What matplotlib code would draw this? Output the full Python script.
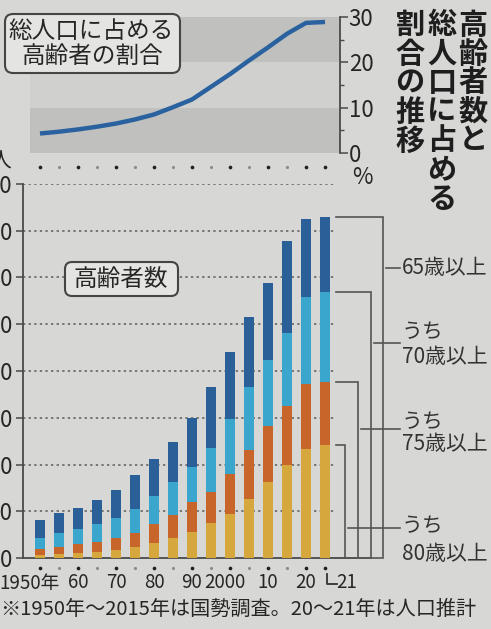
import matplotlib
matplotlib.use('Agg')
import matplotlib.pyplot as plt
from matplotlib.patches import FancyBboxPatch

plt.rcParams['font.family'] = ['Noto Sans CJK JP', 'DejaVu Sans']

# ---------------- data ----------------
years = ['1950', '1955', '1960', '1965', '1970', '1975', '1980', '1985',
         '1990', '1995', '2000', '2005', '2010', '2015', '2020', '2021']
# 万人
pop65 = [411, 482, 535, 615, 730, 887, 1062, 1245, 1495, 1828, 2204, 2578, 2945, 3390, 3625, 3645]
pop70 = [214, 268, 310, 364, 428, 524, 663, 813, 974, 1177, 1487, 1830, 2119, 2408, 2793, 2846]
pop75 = [96, 118, 150, 171, 214, 268, 364, 460, 599, 706, 899, 1156, 1412, 1626, 1862, 1883]
pop80 = [30, 43, 53, 64, 86, 118, 160, 214, 278, 375, 471, 631, 813, 995, 1166, 1209]
# % of total population
share = [4.3, 4.7, 5.2, 5.8, 6.5, 7.4, 8.5, 10.1, 11.8, 14.6, 17.4, 20.4, 23.3, 26.3, 28.7, 28.9]

xlabels = ['1950年', '', '60', '', '70', '', '80', '', '90', '', '2000', '', '10', '', '20', '21']
yticks_b = list(range(0, 4001, 500))
yticks_t = [0, 10, 20, 30]

# ---------------- style ----------------
W, H = 491, 629
BG = '#d7d7d5'
C_DARK = '#2b5f97'
C_LIGHT = '#3aa5cd'
C_ORANGE = '#c7652b'
C_YELLOW = '#d6a73c'
C_LINE = '#2a62a0'
C_TXT = '#262626'
C_AX = '#4a4a4a'

X0, P = 40, 19.0


def px(x):
    return (x - X0) / P


fig = plt.figure(figsize=(W / 100, H / 100), dpi=100, facecolor=BG)

# ---------------- bottom panel ----------------
axb = fig.add_axes([23 / W, 1 - 558 / H, (335 - 23) / W, (558 - 184) / H])
axb.set_facecolor('none')
axb.set_xlim(px(23), px(335))
axb.set_ylim(0, 4000)


def by(y):
    return (558 - y) * 4000 / 374.0


xs = list(range(len(years)))
bw = 0.57
seg_yellow = pop80
seg_orange = [a - b for a, b in zip(pop75, pop80)]
seg_light = [a - b for a, b in zip(pop70, pop75)]
seg_dark = [a - b for a, b in zip(pop65, pop70)]
axb.bar(xs, seg_yellow, width=bw, color=C_YELLOW, zorder=3)
axb.bar(xs, seg_orange, width=bw, bottom=pop80, color=C_ORANGE, zorder=3)
axb.bar(xs, seg_light, width=bw, bottom=pop75, color=C_LIGHT, zorder=3)
axb.bar(xs, seg_dark, width=bw, bottom=pop70, color=C_DARK, zorder=3)

for v in yticks_b[1:]:
    axb.axhline(v, color='#6e6e6e', lw=1.3, ls=(0, (1.3, 1.8)), zorder=1)

for s in ['top', 'right']:
    axb.spines[s].set_visible(False)
for s in ['left', 'bottom']:
    axb.spines[s].set_color(C_AX)
    axb.spines[s].set_linewidth(1.3)
axb.set_yticks(yticks_b)
axb.set_yticklabels([str(v) for v in yticks_b])
axb.tick_params(axis='y', direction='out', length=5, width=1.1, color=C_AX,
                pad=2.6, labelsize=16, labelcolor=C_TXT)
axb.set_xticks([])

# x tick dots
big = [i for i, y in enumerate(years) if int(y) % 10 == 0 or y == '2021']
small = [i for i in xs if i not in big]
axb.scatter(big, [by(568)] * len(big), s=7, color='#202020', clip_on=False, zorder=4, lw=0)
axb.scatter(small, [by(568)] * len(small), s=5, color='#8a8a8a', clip_on=False, zorder=4, lw=0)

# brackets (right) from 2021 values
last = len(years) - 1
br_vals = [pop65[last], pop70[last], pop75[last], pop80[last]]
br_x = [383, 371, 358, 345]
for v, bx in zip(br_vals, br_x):
    axb.plot([px(336), px(bx), px(bx), px(336)], [v, v, 0, 0], color='#555555',
             lw=1.2, clip_on=False, zorder=4, solid_joinstyle='miter')

# ---------------- top panel ----------------
axt = fig.add_axes([23 / W, 1 - 153 / H, (340 - 23) / W, (153 - 17) / H])
axt.set_facecolor('none')
axt.set_xlim(px(23), px(340))
axt.set_ylim(0, 30)


def ty(y):
    return (153 - y) * 30 / 136.0


band_x0 = (30 - 23) / (340 - 23)
axt.axhspan(0, 10, xmin=band_x0, color='#c0c0be', lw=0, zorder=0)
axt.axhspan(10, 20, xmin=band_x0, color='#d0d0ce', lw=0, zorder=0)
axt.axhspan(20, 30, xmin=band_x0, color='#c0c0be', lw=0, zorder=0)
axt.plot(xs, share, color=C_LINE, lw=3.2, solid_capstyle='butt',
         solid_joinstyle='round', zorder=3)

for s in ['top', 'left', 'bottom']:
    axt.spines[s].set_visible(False)
axt.spines['right'].set_color(C_AX)
axt.spines['right'].set_linewidth(1.3)
axt.yaxis.tick_right()
axt.set_yticks(yticks_t)
axt.set_yticklabels([str(v) for v in yticks_t])
axt.set_yticks([5, 15, 25], minor=True)
axt.tick_params(axis='y', which='major', direction='out', length=5.5, width=1.1,
                color=C_AX, pad=0.8, labelsize=16, labelcolor=C_TXT)
axt.tick_params(axis='y', which='minor', direction='out', length=3.2, width=1.0, color=C_AX)
axt.set_xticks([])
axt.scatter(big, [ty(167)] * len(big), s=7, color='#202020', clip_on=False, zorder=4, lw=0)
axt.scatter(small, [ty(167)] * len(small), s=5, color='#8a8a8a', clip_on=False, zorder=4, lw=0)

# ---------------- overlay (pixel coords) ----------------
ov = fig.add_axes([0, 0, 1, 1], zorder=10)
ov.set_xlim(0, W)
ov.set_ylim(H, 0)
ov.axis('off')
ov.patch.set_visible(False)

# title (vertical)
cols = [(473, '高齢者数と'), (442, '総人口に占める'), (410, '割合の推移')]
for cx, s in cols:
    for k, ch in enumerate(s):
        ov.text(cx, 24.5 + 29 * k, ch, fontsize=21, fontweight='bold', color='#1e1e1e',
                ha='center', va='center')

# box labels
b1 = FancyBboxPatch((5, 14), 175, 59, boxstyle='round,pad=0,rounding_size=8',
                    fc='#e4e4e2', ec='#454545', lw=1.5, zorder=5)
ov.add_patch(b1)
ov.text(91, 31, '総人口に占める', fontsize=17, color=C_TXT, ha='center', va='center', zorder=6)
ov.text(92, 56, '高齢者の割合', fontsize=17, color=C_TXT, ha='center', va='center', zorder=6)

b2 = FancyBboxPatch((65, 262), 113, 34, boxstyle='round,pad=0,rounding_size=7',
                    fc='#e4e4e2', ec='#454545', lw=1.5, zorder=5)
ov.add_patch(b2)
ov.text(121, 279, '高齢者数', fontsize=17, color=C_TXT, ha='center', va='center', zorder=6)

# units
ov.text(362, 178, '%', fontsize=16, color=C_TXT, ha='center', va='center')
ov.text(12, 162, '万人', fontsize=15, color=C_TXT, ha='right', va='center')

# x labels
xl_pos = {0: 30, 8: 192, 10: 225}
for i, lab in enumerate(xlabels):
    if not lab or i == last:
        continue
    cx = xl_pos.get(i, X0 + P * i)
    ov.text(cx, 583, lab, fontsize=13.5, color=C_TXT, ha='center', va='center')
ov.plot([327, 327, 337], [574, 584, 584], color='#333333', lw=1.3)
ov.text(347, 583, xlabels[last], fontsize=13.5, color=C_TXT, ha='center', va='center')

# right labels and pointers
lab_x = 402
ov.text(lab_x, 268, '65歳以上', fontsize=15, color='#333333', ha='left', va='center')
ov.plot([386, 400], [268, 268], color='#555555', lw=1.2)
for (y1, y2, txt, py, bx) in [(332, 357, '70歳以上', 343, 371),
                              (422, 444, '75歳以上', 429, 358),
                              (526, 554, '80歳以上', 528, 345)]:
    ov.text(lab_x, y1, 'うち', fontsize=15, color='#333333', ha='left', va='center')
    ov.text(lab_x, y2, txt, fontsize=15, color='#333333', ha='left', va='center')
    ov.plot([bx + 3, 400], [py, py], color='#555555', lw=1.2)

# footnote
ov.text(0, 609, '※1950年～2015年は国勢調査。20～21年は人口推計', fontsize=14.5,
        color=C_TXT, ha='left', va='center')

fig.savefig('out.png', dpi=100, facecolor=BG)
